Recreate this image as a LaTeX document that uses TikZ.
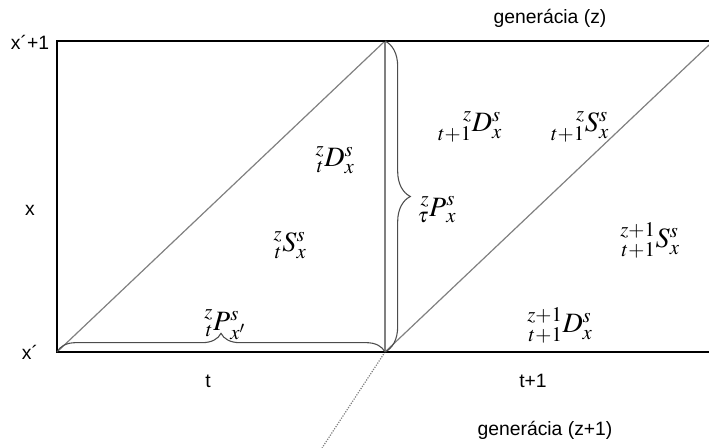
\documentclass[tikz,border=0pt]{standalone}
\usepackage{mathptmx}
\usepackage{mathtools}
\usepackage{fontspec}
\setsansfont{Liberation Sans}
\usetikzlibrary{decorations.pathreplacing}
\begin{document}
\begin{tikzpicture}[x=0.75pt,y=0.75pt,
  frame/.style={line width=2.2pt,black,line join=miter},
  thinline/.style={line width=0.9pt,black!50},
  lab/.style={font=\sffamily\fontsize{14.5}{16}\selectfont,inner sep=0pt},
  sym/.style={font=\fontsize{21}{24}\selectfont,inner sep=0pt},
  brc/.style={decorate,decoration={brace,amplitude=#1},line width=0.8pt,black!70}]
\useasboundingbox (0,0) rectangle (709,448);
\coordinate (TL) at (57,407);
\coordinate (BL) at (57,96);
\coordinate (TM) at (385,407);
\coordinate (BM) at (385,96);
\coordinate (TR) at (709,407);
\coordinate (BR) at (709,96);
\coordinate (DR) at (709,403);
\coordinate (DD) at (322,0);
\draw[thinline] (BL) -- (TM);
\draw[thinline] (BM) -- (DR);
\draw[thinline] (TM) -- (BM);
\draw[thinline,densely dotted] (BM) -- (DD);
\draw[frame] (TR) -- (TL) -- (BL) -- (BR);
\draw[brc=19pt] (TM) -- (BM);
\draw[brc=14pt] (BL) -- (BM);
% axis labels
\node[lab] (gz) at (550,430) {generácia (z)};
\node[lab] (gz1) at (545,18) {generácia (z+1)};
\node[lab] (xp1) at (30,406) {x´+1};
\node[lab] (xx) at (30,238) {x};
\node[lab] (xp) at (30,96) {x´};
\node[lab] (tt) at (208,67) {t};
\node[lab] (tt1) at (533,67) {t+1};
% symbols
\node[sym] (Dtl) at (335,288) {$\prescript{z}{t}{D}^{s}_{x}$};
\node[sym] (Stl) at (290,203) {$\prescript{z}{t}{S}^{s}_{x}$};
\node[sym] (Ptau) at (437,238) {$\prescript{z}{\tau}{P}^{s}_{x}$};
\node[sym] (Pbot) at (225,123) {$\prescript{z}{t}{P}^{s}_{x'}$};
\node[sym] (Dzt1) at (470,321) {$\prescript{z}{t+1}{D}^{s}_{x}$};
\node[sym] (Szt1) at (580,321) {$\prescript{z}{t+1}{S}^{s}_{x}$};
\node[sym] (Sz1) at (650,208) {$\prescript{z+1}{t+1}{S}^{s}_{x}$};
\node[sym] (Dz1) at (560,123) {$\prescript{z+1}{t+1}{D}^{s}_{x}$};
\end{tikzpicture}
\end{document}
